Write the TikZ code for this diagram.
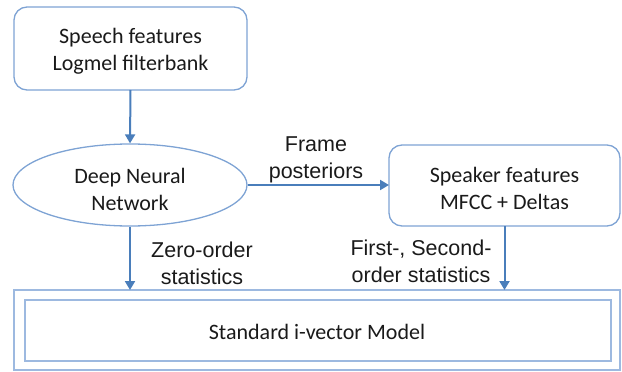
\documentclass[tikz,border=0pt]{standalone}
\usepackage{fontspec}
\setmainfont{Carlito}
\newfontfamily\labelfont{Liberation Sans}
\usetikzlibrary{arrows.meta,shapes.geometric}
\definecolor{arrowblue}{HTML}{4A7EBB}
\definecolor{boxblue}{HTML}{7EA3D4}
\definecolor{modelblue}{HTML}{9DB9E0}
\definecolor{txt}{HTML}{1A1A1A}
\tikzset{
  procbox/.style={draw=boxblue, line width=1.3pt, rounded corners=13pt, fill=white},
  conn/.style={draw=arrowblue, line width=2pt, -{Triangle[length=9pt,width=10pt]}},
  boxtext/.style={font=\fontsize{22}{27}\selectfont, text=txt, align=center},
  lbl/.style={font=\labelfont\fontsize{21.5}{27}\selectfont, text=txt, align=center},
  modelrect/.style={draw=modelblue, line width=1.5pt}
}
\begin{document}
\begin{tikzpicture}[x=1pt,y=1pt]
\useasboundingbox (0,0) rectangle (622,-372);
% boxes
\draw[procbox] (14,-7) rectangle (247,-90);
\node[boxtext] (speech) at (130.5,-51) {Speech features\\Logmel filterbank};
\coordinate (speechS) at (130.5,-90);
\node[draw=boxblue, line width=1.3pt, ellipse, minimum width=234pt, minimum height=82pt, inner sep=0pt] (dnn) at (130,-185) {};
\node[boxtext] (dnntext) at (130,-189) {Deep Neural\\Network};
\draw[procbox] (389,-145) rectangle (620,-226);
\node[boxtext] (spk) at (504.5,-188) {Speaker features\\MFCC + Deltas};
\coordinate (spkW) at (389,-185);
\coordinate (spkS) at (504.5,-226);
% bottom model
\draw[modelrect] (14,-290) rectangle (620,-370);
\draw[modelrect] (25,-300) rectangle (611,-361);
\node[boxtext] (model) at (317,-332) {Standard i-vector Model};
\coordinate (modelN) at (317,-290);
% connectors
\draw[conn] (speechS) -- (dnn.north);
\draw[conn] (dnn.east) -- (spkW);
\draw[conn] (dnn.south) -- (dnn.south |- modelN);
\draw[conn] (spkS) -- (spkS |- modelN);
% labels
\node[lbl] (fp) at (316,-160) {Frame\\posteriors};
\node[lbl] (zo) at (202,-263) {Zero-order\\statistics};
\node[lbl] (fs) at (421,-261) {First-, Second-\\order statistics};
\end{tikzpicture}
\end{document}
